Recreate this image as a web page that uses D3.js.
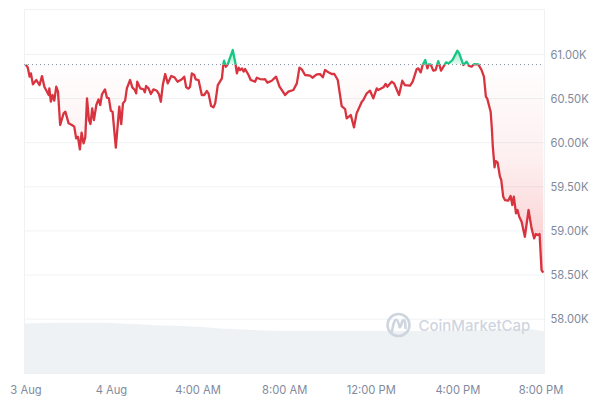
<!DOCTYPE html>
<html><head><meta charset="utf-8">
<script src="https://cdnjs.cloudflare.com/ajax/libs/d3/7.8.5/d3.min.js"></script>
<style>html,body{margin:0;background:#fff}svg{display:block}text{font-family:Inter,"Liberation Sans",sans-serif}</style>
</head><body><svg id="c" width="610" height="406"></svg>
<script>
const hours=[0.02,0.11,0.20,0.26,0.35,0.51,0.66,0.77,0.88,1.08,1.11,1.18,1.26,1.34,1.43,1.51,1.61,1.77,1.85,2.00,2.15,2.26,2.35,2.43,2.52,2.60,2.69,2.77,2.85,2.94,3.01,3.09,3.17,3.28,3.38,3.46,3.54,3.68,3.77,3.86,3.95,4.03,4.18,4.34,4.43,4.51,4.61,4.69,4.84,4.94,5.06,5.12,5.17,5.31,5.46,5.52,5.58,5.69,5.80,5.92,6.07,6.17,6.26,6.35,6.46,6.58,6.74,6.89,7.03,7.23,7.34,7.43,7.54,7.61,7.69,7.80,7.87,8.00,8.15,8.26,8.38,8.46,8.58,8.69,8.77,8.89,9.08,9.15,9.18,9.26,9.35,9.58,9.69,9.77,9.85,9.92,10.01,10.08,10.15,10.31,10.41,10.61,10.69,10.84,11.00,11.07,11.18,11.38,11.58,11.74,12.00,12.15,12.38,12.54,12.66,12.77,12.92,13.15,13.26,13.46,13.61,13.74,13.84,14.00,14.15,14.27,14.43,14.61,14.77,14.84,15.03,15.18,15.30,15.54,15.61,15.77,15.92,16.07,16.23,16.30,16.54,16.64,16.72,16.92,17.03,17.26,17.41,17.53,17.77,17.89,18.07,18.15,18.26,18.35,18.47,18.57,18.63,18.72,18.84,18.95,19.07,19.20,19.33,19.43,19.55,19.73,19.95,20.04,20.23,20.38,20.49,20.61,20.73,20.92,21.07,21.18,21.27,21.33,21.49,21.55,21.59,21.67,21.72,21.81,21.92,21.98,22.07,22.15,22.30,22.41,22.49,22.56,22.66,22.73,22.81,22.92,23.07,23.24,23.38,23.50,23.58,23.66,23.75,23.84,23.92];
const prices=[60880,60849,60743,60780,60656,60705,60648,60750,60629,60535,60610,60459,60535,60471,60629,60573,60195,60327,60346,60214,60195,60176,60044,60062,59919,60108,59987,60055,60497,60251,60206,60384,60251,60422,60486,60422,60542,60599,60505,60497,60357,60346,59938,60403,60206,60440,60471,60610,60705,60622,60592,60554,60686,60610,60599,60565,60637,60610,60546,60599,60584,60546,60459,60648,60773,60667,60750,60735,60686,60713,60743,60622,60607,60629,60781,60762,60713,60705,60535,60535,60580,60554,60410,60395,60440,60648,60724,60894,60924,60856,60886,61045,60913,60781,60845,60818,60837,60800,60830,60762,60705,60686,60731,60716,60713,60716,60675,60697,60743,60629,60535,60573,60592,60667,60845,60826,60762,60754,60731,60769,60773,60735,60818,60792,60773,60773,60705,60410,60376,60270,60308,60168,60327,60459,60478,60554,60584,60497,60610,60592,60622,60660,60629,60686,60667,60535,60697,60648,60641,60686,60826,60837,60792,60875,60932,60837,60883,60883,60811,60818,60920,60811,60864,60905,60894,60932,61038,61007,60875,60913,60864,60856,60886,60883,60818,60743,60516,60497,60346,60138,59949,59715,59786,59771,59609,59571,59382,59344,59337,59390,59288,59382,59193,59231,59155,59098,58928,59231,59023,58909,58959,58947,58959,58550,58520];
const volumeHours=[-0.06,1,2,3,4,5,6,7,8,9,10,11,12,14,16,18,20,21,22,23,23.5,24];
const volumes=[30.0,30.3,30.4,30.4,30.3,29.7,29.0,28.7,28.0,27.0,26.4,25.9,25.6,25.6,25.6,25.6,25.8,26.0,26.5,26.8,26.4,25.2];
const priceTicks=[58000,58500,59000,59500,60000,60500,61000];
const priceLabels=["58.00K","58.50K","59.00K","59.50K","60.00K","60.50K","61.00K"];
const timeTicks=[0,4,8,12,16,20,24];
const timeLabels=["3 Aug","4 Aug","4:00 AM","8:00 AM","12:00 PM","4:00 PM","8:00 PM"];
const baselinePrice=60880;
const W=[24,544];
const x=d3.scaleLinear().domain([0,24]).range([25.3,545]);
const y=d3.scaleLinear().domain([58000,61000]).range([318.6,54]);
const vy=d3.scaleLinear().domain([0,30]).range([374,323.5]);
const svg=d3.select('#c');
const data=hours.map((h,i)=>({h,p:prices[i]}));
const by=y(baselinePrice);
const defs=svg.append('defs');
const rg=defs.append('linearGradient').attr('id','rg').attr('gradientUnits','userSpaceOnUse').attr('x1',0).attr('x2',0).attr('y1',by).attr('y2',y(58500));
rg.append('stop').attr('offset',0).attr('stop-color','#ea3943').attr('stop-opacity',0.005);
rg.append('stop').attr('offset',.45).attr('stop-color','#ea3943').attr('stop-opacity',0.08);
rg.append('stop').attr('offset',1).attr('stop-color','#ea3943').attr('stop-opacity',0.28);
const gg=defs.append('linearGradient').attr('id','gg').attr('gradientUnits','userSpaceOnUse').attr('x1',0).attr('x2',0).attr('y1',y(61050)).attr('y2',by);
gg.append('stop').attr('offset',0).attr('stop-color','#16c784').attr('stop-opacity',0.45);
gg.append('stop').attr('offset',1).attr('stop-color','#16c784').attr('stop-opacity',0.1);
defs.append('clipPath').attr('id','above').append('rect').attr('x',0).attr('y',0).attr('width',610).attr('height',by);
defs.append('clipPath').attr('id','below').append('rect').attr('x',0).attr('y',by).attr('width',610).attr('height',406-by);
// grid
svg.append('g').selectAll('line').data(priceTicks).join('line')
 .attr('x1',W[0]).attr('x2',W[1]).attr('y1',d=>y(d)+.5).attr('y2',d=>y(d)+.5).attr('stroke','#eff2f5');
svg.append('g').selectAll('line').data(W).join('line')
 .attr('x1',d=>d+.5).attr('x2',d=>d+.5).attr('y1',9).attr('y2',374).attr('stroke','#eff2f5');
svg.append('line').attr('x1',W[0]).attr('x2',W[1]).attr('y1',9.5).attr('y2',9.5).attr('stroke','#eff2f5');
// volume
svg.append('path').datum(volumeHours.map((h,i)=>({h,v:volumes[i]})))
 .attr('d',d3.area().x(d=>x(d.h)).y0(vy(0)).y1(d=>vy(d.v))).attr('fill','#eff2f5');
// areas
const area=d3.area().x(d=>x(d.h)).y0(by).y1(d=>y(d.p));
svg.append('path').datum(data).attr('d',area).attr('fill','url(#rg)').attr('clip-path','url(#below)');
svg.append('path').datum(data).attr('d',area).attr('fill','url(#gg)').attr('clip-path','url(#above)');
// baseline
svg.append('line').attr('x1',W[0]).attr('x2',W[1]).attr('y1',by).attr('y2',by)
 .attr('stroke','#858ca2').attr('stroke-width',1).attr('stroke-dasharray','1 3');
// lines
const line=d3.line().x(d=>x(d.h)).y(d=>y(d.p));
svg.append('path').datum(data).attr('d',line).attr('fill','none').attr('stroke','#d8343f').attr('stroke-width',2.3).attr('stroke-linejoin','round').attr('clip-path','url(#below)');
svg.append('path').datum(data).attr('d',line).attr('fill','none').attr('stroke','#16c784').attr('stroke-width',2.3).attr('stroke-linejoin','round').attr('clip-path','url(#above)');
// labels
svg.append('g').selectAll('text').data(priceTicks).join('text').attr('x',550.5).attr('y',d=>y(d)+4.5)
 .attr('font-size',11.2).attr('fill','#808a9d').text((d,i)=>priceLabels[i]);
svg.append('g').selectAll('text').data(timeTicks).join('text')
 .attr('x',(d,i)=>i==0?26:i==6?541:x(d)-.5).attr('y',393.5).attr('text-anchor','middle')
 .attr('font-size',11.2).attr('fill','#808a9d').text((d,i)=>timeLabels[i]);
// watermark
const wm=svg.append('g');
wm.append('circle').attr('cx',398.5).attr('cy',325).attr('r',11).attr('fill','none').attr('stroke','#cfd5df').attr('stroke-width',2.6);
wm.append('path').attr('d','M392 331 Q394 319 396.5 320 Q398 320 399.5 327 Q400.5 328 402 322 Q403.5 318 405 322 L405.5 328').attr('fill','none').attr('stroke','#cfd5df').attr('stroke-width',2.6).attr('stroke-linejoin','round').attr('stroke-linecap','round');
wm.append('text').attr('x',418.5).attr('y',330.5).attr('font-size',15).attr('font-weight',500).attr('fill','#cfd5df').text('CoinMarketCap');
</script></body></html>
